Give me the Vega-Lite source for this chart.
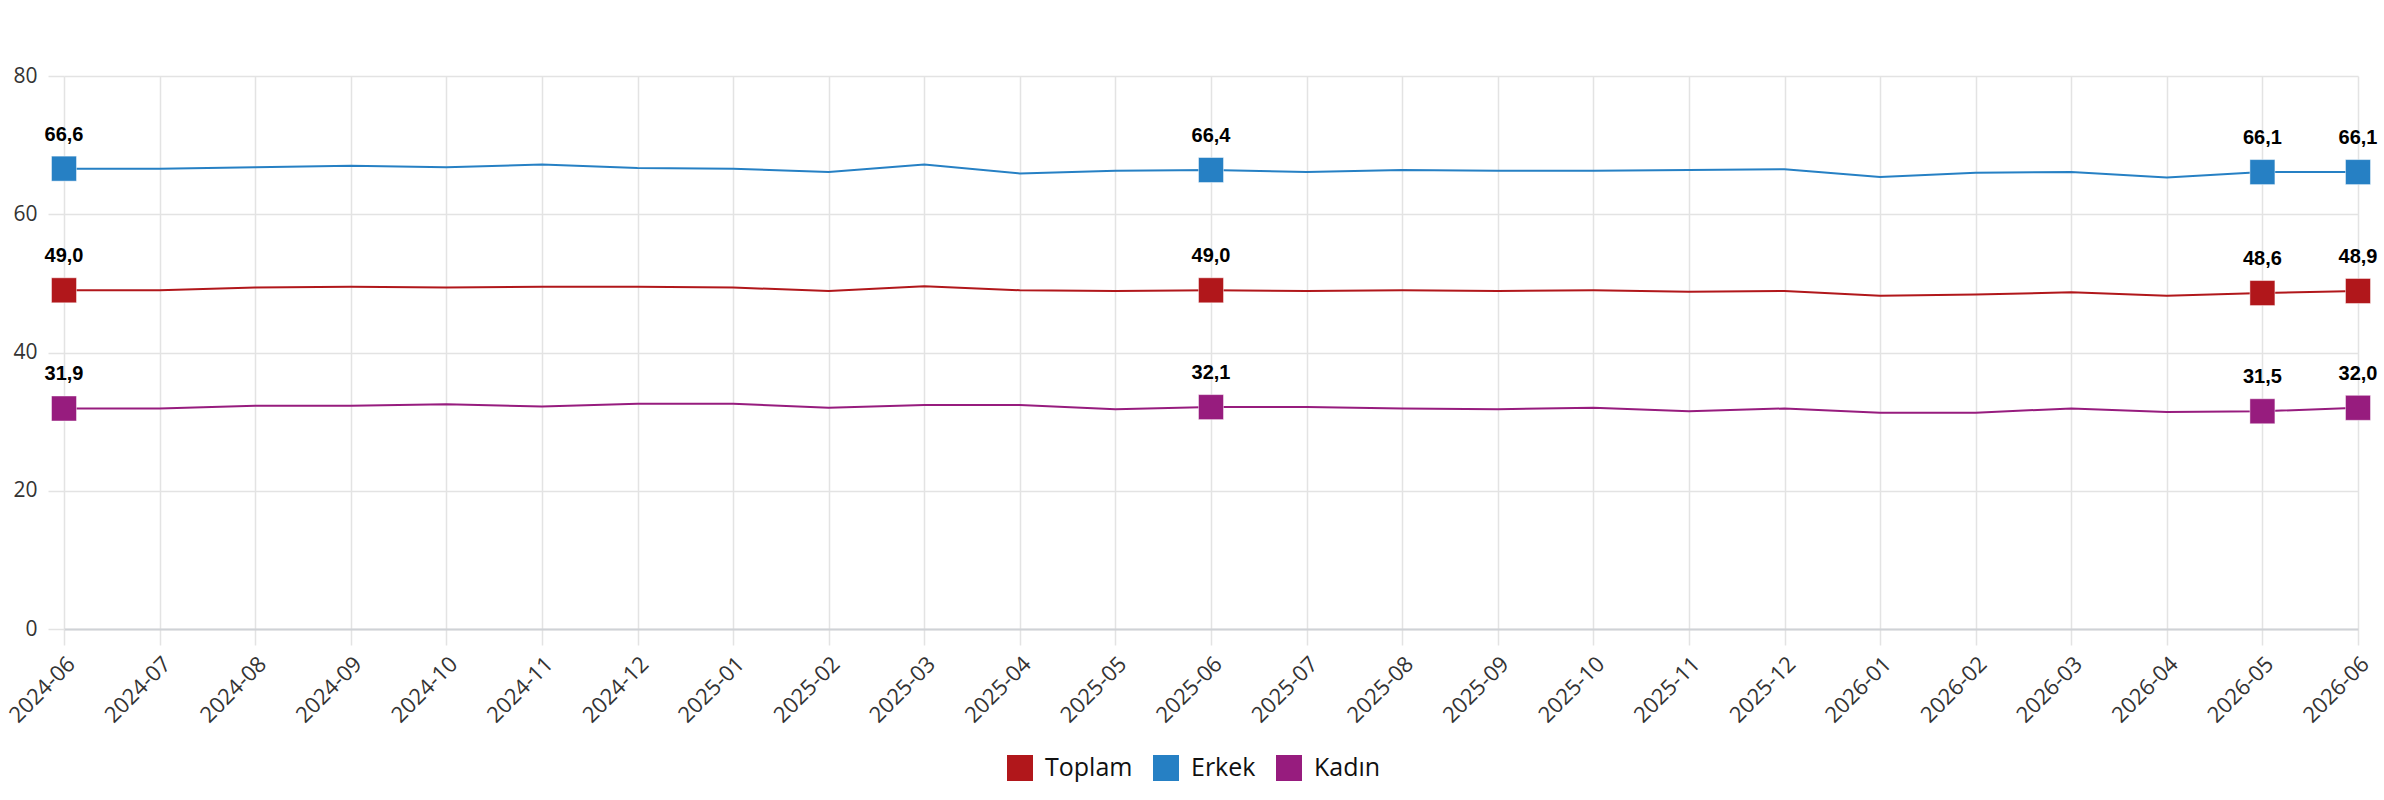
{
  "$schema": "https://vega.github.io/schema/vega-lite/v6.json",
  "width": 2294,
  "height": 553,
  "autosize": {"type": "none"},
  "padding": {"left": 64, "top": 76, "right": 26, "bottom": 171},
  "background": "white",
  "config": {
    "view": {"stroke": null},
    "locale": {
      "number": {"decimal": ",", "thousands": ".", "grouping": [3], "currency": ["", " TL"]}
    }
  },
  "data": {
    "values": [
      {"month": "2024-06", "Toplam": 49.0, "Erkek": 66.6, "Kadın": 31.9},
      {"month": "2024-07", "Toplam": 49.0, "Erkek": 66.6, "Kadın": 31.9},
      {"month": "2024-08", "Toplam": 49.4, "Erkek": 66.8, "Kadın": 32.3},
      {"month": "2024-09", "Toplam": 49.5, "Erkek": 67.0, "Kadın": 32.3},
      {"month": "2024-10", "Toplam": 49.4, "Erkek": 66.8, "Kadın": 32.5},
      {"month": "2024-11", "Toplam": 49.5, "Erkek": 67.2, "Kadın": 32.2},
      {"month": "2024-12", "Toplam": 49.5, "Erkek": 66.7, "Kadın": 32.6},
      {"month": "2025-01", "Toplam": 49.4, "Erkek": 66.6, "Kadın": 32.6},
      {"month": "2025-02", "Toplam": 48.9, "Erkek": 66.1, "Kadın": 32.0},
      {"month": "2025-03", "Toplam": 49.6, "Erkek": 67.2, "Kadın": 32.4},
      {"month": "2025-04", "Toplam": 49.0, "Erkek": 65.9, "Kadın": 32.4},
      {"month": "2025-05", "Toplam": 48.9, "Erkek": 66.3, "Kadın": 31.8},
      {"month": "2025-06", "Toplam": 49.0, "Erkek": 66.4, "Kadın": 32.1},
      {"month": "2025-07", "Toplam": 48.9, "Erkek": 66.1, "Kadın": 32.1},
      {"month": "2025-08", "Toplam": 49.0, "Erkek": 66.4, "Kadın": 31.9},
      {"month": "2025-09", "Toplam": 48.9, "Erkek": 66.3, "Kadın": 31.8},
      {"month": "2025-10", "Toplam": 49.0, "Erkek": 66.3, "Kadın": 32.0},
      {"month": "2025-11", "Toplam": 48.8, "Erkek": 66.4, "Kadın": 31.5},
      {"month": "2025-12", "Toplam": 48.9, "Erkek": 66.5, "Kadın": 31.9},
      {"month": "2026-01", "Toplam": 48.2, "Erkek": 65.4, "Kadın": 31.3},
      {"month": "2026-02", "Toplam": 48.4, "Erkek": 66.0, "Kadın": 31.3},
      {"month": "2026-03", "Toplam": 48.7, "Erkek": 66.1, "Kadın": 31.9},
      {"month": "2026-04", "Toplam": 48.2, "Erkek": 65.3, "Kadın": 31.4},
      {"month": "2026-05", "Toplam": 48.6, "Erkek": 66.1, "Kadın": 31.5},
      {"month": "2026-06", "Toplam": 48.9, "Erkek": 66.1, "Kadın": 32.0}
    ]
  },
  "transform": [{"fold": ["Toplam", "Erkek", "Kadın"], "as": ["series", "value"]}],
  "encoding": {
    "x": {
      "field": "month",
      "type": "ordinal",
      "sort": null,
      "scale": {"type": "point", "padding": 0},
      "axis": {
        "title": null,
        "domain": true,
        "domainColor": "#cfd2d6",
        "domainWidth": 2,
        "ticks": true,
        "tickSize": 16,
        "tickColor": "#e3e3e3",
        "tickWidth": 1.5,
        "grid": true,
        "gridColor": "#e3e3e3",
        "gridWidth": 1.5,
        "labelAngle": -45,
        "labelAlign": "right",
        "labelBaseline": "top",
        "labelPadding": 8,
        "labelFont": "Open Sans",
        "labelFontSize": 22,
        "labelColor": "#333333"
      }
    },
    "y": {
      "field": "value",
      "type": "quantitative",
      "scale": {"domain": [0, 80], "nice": false},
      "axis": {
        "title": null,
        "values": [0, 20, 40, 60, 80],
        "domain": false,
        "ticks": true,
        "tickSize": 16,
        "tickColor": "#e3e3e3",
        "tickWidth": 1.5,
        "grid": true,
        "gridColor": "#e3e3e3",
        "gridWidth": 1.5,
        "labelPadding": 11,
        "labelFont": "Open Sans",
        "labelFontSize": 21,
        "labelColor": "#333333"
      }
    },
    "color": {
      "field": "series",
      "type": "nominal",
      "scale": {
        "domain": ["Toplam", "Erkek", "Kadın"],
        "range": ["#b1171b", "#2680c4", "#971c7e"]
      },
      "legend": {
        "title": null,
        "orient": "none",
        "direction": "horizontal",
        "legendX": 943,
        "legendY": 679,
        "symbolType": "square",
        "symbolSize": 676,
        "symbolStrokeWidth": 0,
        "symbolOpacity": 1,
        "labelFont": "Open Sans",
        "labelFontSize": 25,
        "labelColor": "#111111",
        "labelOffset": 12,
        "columnPadding": 20
      }
    }
  },
  "layer": [
    {"mark": {"type": "line", "strokeWidth": 2}},
    {
      "transform": [{"filter": {"field": "month", "oneOf": ["2024-06", "2025-06", "2026-05", "2026-06"]}}],
      "mark": {
        "type": "point",
        "shape": "square",
        "filled": true,
        "size": 625,
        "opacity": 1,
        "stroke": "white",
        "strokeOpacity": 0.45,
        "strokeWidth": 1
      }
    },
    {
      "transform": [{"filter": {"field": "month", "oneOf": ["2024-06", "2025-06", "2026-05", "2026-06"]}}],
      "mark": {
        "type": "text",
        "dy": -28,
        "baseline": "alphabetic",
        "font": "Liberation Sans",
        "fontSize": 20,
        "fontWeight": "bold"
      },
      "encoding": {
        "text": {"field": "value", "type": "quantitative", "format": ".1f"},
        "color": {"value": "#000000"}
      }
    }
  ]
}
